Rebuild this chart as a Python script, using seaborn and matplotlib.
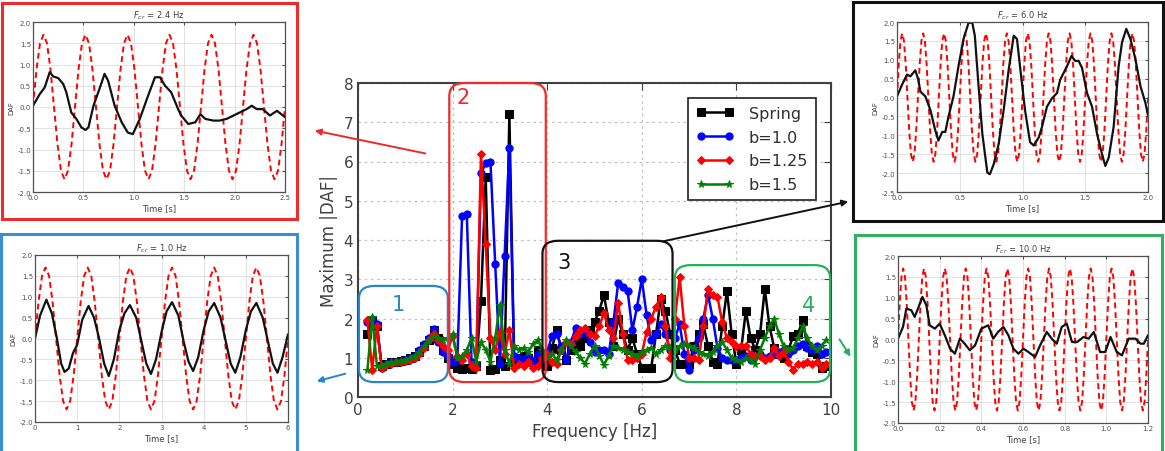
import numpy as np
import matplotlib
matplotlib.use('Agg')
import matplotlib.pyplot as plt
import seaborn as sns
from matplotlib.patches import FancyBboxPatch, Rectangle, FancyArrowPatch

# --- main sweep: maximum |DAF| vs excitation frequency ---
freq = np.round(np.arange(0.2, 9.95, 0.1), 1)   # 0.2 ... 9.9 Hz

spring = [1.6, 1.95, 1.8, 0.8, 0.85, 0.88, 0.9, 0.92, 0.95, 1.0,
          1.05, 1.15, 1.3, 1.45, 1.7, 1.5, 1.2, 1.0, 0.85, 0.75,
          0.72, 0.75, 0.72, 0.8, 2.45, 5.6, 0.7, 0.72, 0.95, 0.8,
          7.2, 0.9, 1.0, 1.05, 1.0, 0.9, 1.2, 1.0, 0.8, 1.25,
          1.7, 1.2, 0.95, 1.2, 1.4, 1.3, 1.5, 1.7, 1.9, 2.2,
          2.6, 1.9, 1.3, 2.0, 1.6, 1.2, 1.5, 1.1, 0.75, 0.75,
          0.75, 1.6, 2.5, 2.2, 1.6, 1.2, 0.85, 0.85, 0.85, 1.3,
          1.6, 1.85, 1.3, 0.9, 0.85, 1.8, 2.7, 1.6, 0.85, 1.2,
          2.2, 1.5, 1.2, 1.6, 2.75, 1.8, 1.25, 1.1, 1.0, 1.2,
          1.55, 1.6, 1.95, 1.3, 1.15, 1.1, 0.75, 0.8]
b10 = [1.9, 2.0, 1.85, 0.75, 0.85, 0.88, 0.9, 0.92, 0.95, 1.0,
       1.05, 1.2, 1.35, 1.5, 1.72, 1.4, 1.15, 1.05, 0.88, 0.95,
       4.6, 4.65, 0.9, 0.8, 5.7, 5.95, 6.0, 3.4, 0.85, 3.6,
       6.35, 1.05, 1.0, 0.95, 1.05, 0.9, 1.1, 0.95, 1.15, 1.55,
       1.6, 1.3, 0.95, 1.4, 1.75, 1.6, 1.65, 1.4, 1.15, 1.2,
       1.2, 1.1, 1.9, 2.9, 2.8, 2.7, 1.7, 2.3, 3.0, 2.1,
       1.45, 1.6, 1.85, 1.6, 1.2, 1.5, 1.85, 1.1, 0.7, 1.2,
       1.5, 2.0, 2.6, 2.0, 1.25, 1.0, 0.95, 0.95, 0.95, 1.0,
       1.05, 0.95, 1.05, 1.1, 1.0, 1.05, 1.1, 1.15, 1.2, 1.1,
       1.2, 1.3, 1.35, 1.25, 1.2, 1.3, 1.1, 1.15]
b125 = [1.95, 0.7, 1.8, 0.75, 0.82, 0.85, 0.88, 0.9, 0.92, 0.95,
        1.0, 1.1, 1.25, 1.45, 1.6, 1.45, 1.3, 1.2, 1.55, 1.05,
        0.95, 1.1, 0.8, 0.75, 6.2, 3.9, 1.5, 1.2, 1.65, 1.1,
        1.7, 0.75, 0.85, 0.8, 0.9, 0.75, 0.8, 1.0, 1.1, 0.9,
        0.85, 1.2, 1.4, 1.35, 1.55, 1.7, 1.75, 1.6, 1.55, 1.8,
        2.15, 1.7, 1.5, 2.4, 1.6, 0.95, 0.95, 1.0, 1.1, 1.65,
        2.0, 2.3, 2.55, 1.8, 1.0, 2.0, 3.05, 1.8, 1.0, 1.0,
        0.95, 1.8, 2.75, 2.6, 2.55, 1.9, 1.5, 1.4, 1.3, 1.3,
        1.3, 1.1, 1.05, 1.05, 0.95, 1.0, 1.25, 1.05, 1.15, 0.9,
        0.7, 0.85, 0.85, 0.9, 0.85, 0.9, 0.75, 0.85]
b15 = [0.7, 2.05, 0.8, 0.8, 0.85, 0.88, 0.9, 0.92, 0.95, 1.0,
       1.05, 1.15, 1.3, 1.45, 1.55, 1.5, 1.45, 1.5, 1.6, 1.0,
       1.05, 1.2, 1.5, 0.9, 1.4, 1.2, 0.9, 1.5, 2.35, 1.2,
       0.85, 1.3, 1.2, 1.25, 1.15, 1.35, 1.45, 1.2, 1.0, 1.1,
       0.95, 1.2, 1.45, 1.3, 1.15, 1.0, 0.85, 1.1, 1.3, 1.05,
       0.82, 1.05, 1.3, 1.25, 1.2, 1.15, 1.1, 1.05, 1.15, 1.2,
       1.25, 1.1, 1.2, 1.3, 1.25, 1.2, 1.3, 1.35, 1.3, 1.25,
       1.15, 1.1, 1.05, 1.15, 1.3, 1.4, 1.2, 1.0, 0.95, 0.9,
       1.0, 0.95, 0.85, 1.2, 1.5, 1.8, 2.0, 1.6, 1.3, 1.2,
       1.25, 1.5, 1.8, 1.5, 1.3, 1.2, 1.3, 1.45]

# --- time histories (black: response, red dashed: excitation) ---
t_24 = [0, 0.066, 0.116, 0.166, 0.2, 0.25, 0.3, 0.33, 0.38, 0.43, 0.48, 0.52, 0.55, 0.6, 0.66,
        0.71, 0.745, 0.81, 0.88, 0.94, 0.99, 1.06, 1.13, 1.21, 1.26, 1.31, 1.37, 1.44, 1.47, 1.54,
        1.61, 1.66, 1.71, 1.79, 1.85, 1.92, 1.99, 2.05, 2.12, 2.17, 2.22, 2.28, 2.35, 2.42, 2.48, 2.5]
daf_24 = [0.03, 0.3, 0.46, 0.82, 0.72, 0.68, 0.54, 0.35, -0.13, -0.28, -0.48, -0.54, -0.48, 0.03, 0.43,
          0.78, 0.62, 0.03, -0.36, -0.6, -0.64, -0.28, 0.19, 0.7, 0.7, 0.5, 0.35, -0.05, -0.2, -0.4,
          -0.36, -0.17, -0.28, -0.32, -0.32, -0.28, -0.2, -0.13, -0.05, 0.03, -0.05, -0.05, -0.2, -0.09, -0.2, -0.24]

t_10 = [0.0, 0.12, 0.27, 0.4, 0.52, 0.62, 0.7, 0.8, 0.9, 1.0, 1.12, 1.27, 1.4, 1.52, 1.64, 1.75, 1.87,
        2.0, 2.12, 2.25, 2.4, 2.52, 2.64, 2.75, 2.87, 3.0, 3.12, 3.25, 3.4, 3.52, 3.64, 3.75, 3.87,
        4.0, 4.12, 4.25, 4.4, 4.52, 4.64, 4.75, 4.87, 5.0, 5.12, 5.25, 5.4, 5.52, 5.64, 5.75, 5.87, 6.0]
daf_10 = [0.0, 0.55, 0.93, 0.6, 0.0, -0.6, -0.8, -0.72, -0.35, -0.15, 0.45, 0.78, 0.5, 0.0, -0.6, -0.9, -0.5,
          0.2, 0.6, 0.8, 0.5, -0.05, -0.6, -0.85, -0.5, 0.15, 0.65, 0.87, 0.55, -0.05, -0.55, -0.78, -0.45,
          0.2, 0.65, 0.85, 0.5, -0.05, -0.6, -0.82, -0.45, 0.2, 0.65, 0.85, 0.5, -0.05, -0.6, -0.82, -0.45, 0.1]

t_60 = [0, 0.04, 0.08, 0.106, 0.146, 0.17, 0.186, 0.226, 0.266, 0.305, 0.33, 0.36, 0.385, 0.41, 0.45,
        0.49, 0.53, 0.57, 0.6, 0.62, 0.65, 0.68, 0.72, 0.74, 0.77, 0.81, 0.85, 0.89, 0.93, 0.956,
        0.98, 1.02, 1.06, 1.09, 1.13, 1.155, 1.195, 1.235, 1.275, 1.3, 1.355, 1.39, 1.42, 1.447, 1.474,
        1.514, 1.554, 1.594, 1.634, 1.66, 1.687, 1.726, 1.766, 1.793, 1.827, 1.86, 1.9, 1.94, 1.98, 2.0]
daf_60 = [0.03, 0.34, 0.61, 0.56, 0.72, 0.47, 0.16, 0.03, -0.33, -0.87, -1.14, -0.91, -0.91, -0.51, 0.03,
          0.83, 1.55, 1.98, 1.98, 1.64, 0.3, -0.96, -1.99, -2.03, -1.77, -1.23, -0.33, 0.74, 1.64, 1.55,
          0.83, -0.33, -1.18, -1.27, -1.05, -0.78, -0.24, -0.02, 0.12, 0.47, 0.83, 1.1, 0.97, 0.97, 0.79,
          0.12, -0.24, -0.96, -1.5, -1.81, -1.59, -0.78, 0.83, 1.46, 1.82, 1.55, 1.01, 0.3, -0.15, -0.47]

t_100 = [0, 0.024, 0.04, 0.064, 0.08, 0.096, 0.117, 0.136, 0.152, 0.177, 0.2, 0.225, 0.25, 0.273, 0.297,
         0.32, 0.345, 0.37, 0.4, 0.433, 0.457, 0.48, 0.506, 0.53, 0.554, 0.578, 0.602, 0.626, 0.658, 0.682,
         0.714, 0.738, 0.762, 0.786, 0.81, 0.835, 0.86, 0.89, 0.915, 0.94, 0.97, 0.995, 1.02, 1.05, 1.075,
         1.107, 1.14, 1.164, 1.18, 1.2]
daf_100 = [0.02, 0.3, 0.74, 0.7, 0.54, 0.74, 1.02, 0.82, 0.34, 0.26, 0.38, 0.1, -0.22, -0.34, 0.02,
           -0.1, -0.26, -0.14, 0.26, 0.34, 0.02, 0.18, 0.3, 0.1, -0.22, -0.34, -0.22, -0.3, -0.42, -0.14,
           0.18, 0.02, -0.1, 0.3, 0.38, -0.06, -0.06, 0.06, 0.02, 0.18, -0.3, -0.3, 0.06, -0.3, -0.38,
           0.02, 0.02, -0.1, -0.1, 0.1]

# one period of the excitation
exc_cycle = [0.0, 0.88, 1.5, 1.7, 1.5, 0.88, 0.0, -0.88, -1.5, -1.7, -1.5, -0.88]

ticks_24 = ['0.0', '0.5', '1.0', '1.5', '2.0', '2.5']
ticks_10 = ['0', '1', '2', '3', '4', '5', '6']
ticks_60 = ['0.0', '0.5', '1.0', '1.5', '2.0']
ticks_100 = ['0.0', '0.2', '0.4', '0.6', '0.8', '1.0', '1.2']

W, H = 1165, 452


def fp(x, y):
    # figure pixel (from top-left) -> figure fraction
    return x / W, 1 - y / H


sns.set_style('white')
plt.rcParams['font.family'] = ['DejaVu Sans']
plt.rcParams['mathtext.fontset'] = 'dejavusans'

fig = plt.figure(figsize=(11.65, 4.52), dpi=100)

# ================= main axes =================
ax = fig.add_axes([358 / W, 1 - 398 / H, 473 / W, 314 / H])
series = [('Spring', spring, 'black', 's', 5.2),
          ('b=1.0', b10, 'blue', 'o', 5.2),
          ('b=1.25', b125, 'red', 'D', 4.3),
          ('b=1.5', b15, 'green', '*', 5.5)]
for lab, vals, col, mk, ms in series:
    sns.lineplot(x=freq, y=vals, ax=ax, color=col, marker=mk, markersize=ms,
                 markeredgecolor=col, linewidth=1.8, label=lab, sort=False, estimator=None)

ax.set_xlim(0, 10)
ax.set_ylim(0, 8)
ax.set_xticks([0, 2, 4, 6, 8, 10])
ax.set_yticks(range(0, 9))
ax.grid(True, color='#c0c0c0', linestyle=(0, (2, 3)), linewidth=0.9)
ax.tick_params(direction='in', top=True, right=True, length=5, labelsize=11,
               labelcolor='#404040', color='#404040')
for s in ax.spines.values():
    s.set_linewidth(1.5)
    s.set_color('#404040')
ax.set_xlabel('Frequency [Hz]', fontsize=12, color='#404040')
ax.set_ylabel('Maximum |DAF|', fontsize=12, color='#404040')

leg = ax.legend(loc='upper right', bbox_to_anchor=(0.985, 0.978), fontsize=11.5, numpoints=2,
                fancybox=False, edgecolor='#202020', framealpha=1, borderpad=0.5,
                labelspacing=0.55, handlelength=2.4, handletextpad=0.9)
leg.get_frame().set_linewidth(1.2)
for txt in leg.get_texts():
    txt.set_color('#303030')

# highlighted regions
regions = [((0.02, 0.38), 1.88, 2.45, '#2a86cc', '1', (0.85, 2.37)),
           ((1.93, 0.38), 2.04, 7.62, '#f02a2a', '2', (2.22, 7.65)),
           ((3.9, 0.38), 2.75, 3.6, '#111111', '3', (4.35, 3.44)),
           ((6.7, 0.38), 3.28, 2.98, '#25b05a', '4', (9.53, 2.34))]
for (x0, y0), w, h, col, num, (tx, ty) in regions:
    ax.add_patch(FancyBboxPatch((x0, y0), w, h, boxstyle='round,pad=0,rounding_size=0.33',
                                fill=False, ec=col, lw=1.6, clip_on=False, zorder=5))
    ax.text(tx, ty, num, color=col, fontsize=15, ha='center', va='center', zorder=6)


# ================= insets =================
def inset(rect, t, daf, f_cr, n_cyc, t_end, xlabels, ylims, yticks):
    a = fig.add_axes(rect)
    t_exc = np.linspace(0, t_end, n_cyc * len(exc_cycle) + 1)
    exc = np.append(np.tile(exc_cycle, n_cyc), 0.0)
    sns.lineplot(x=t_exc, y=exc, ax=a, color='red', linewidth=1.4,
                 linestyle=(0, (3, 2)), sort=False, estimator=None)
    sns.lineplot(x=t, y=daf, ax=a, color='#111111', linewidth=1.6, sort=False, estimator=None)
    a.set_xlim(0, t_end)
    a.set_ylim(*ylims)
    a.set_xticks([float(v) for v in xlabels])
    a.set_xticklabels(xlabels)
    a.set_yticks(yticks)
    a.set_yticklabels(['%.1f' % v for v in yticks])
    a.grid(True, color='#dddddd', linewidth=0.6)
    a.tick_params(direction='in', length=2, labelsize=5, labelcolor='#505050',
                  color='#505050', pad=1.5, top=True, right=True)
    for s in a.spines.values():
        s.set_linewidth(0.9)
        s.set_color('#505050')
    a.set_title(r'$F_{cr}$ = %s Hz' % f_cr, fontsize=6, color='#404040', pad=3)
    a.set_xlabel('Time [s]', fontsize=6, color='#404040', labelpad=2)
    a.set_ylabel('DAF', fontsize=5, color='#404040', labelpad=2)
    return a


yt_std = [-2.0, -1.5, -1.0, -0.5, 0.0, 0.5, 1.0, 1.5, 2.0]
yt_60 = [-2.5, -2.0, -1.5, -1.0, -0.5, 0.0, 0.5, 1.0, 1.5, 2.0]

inset([33 / W, 1 - 193 / H, 252 / W, 170 / H], t_24, daf_24, '2.4', 6, 2.5,
      ticks_24, (-2, 2), yt_std)
inset([35 / W, 1 - 423 / H, 253 / W, 167 / H], t_10, daf_10, '1.0', 6, 6.0,
      ticks_10, (-2, 2), yt_std)
inset([897 / W, 1 - 193 / H, 251 / W, 170 / H], t_60, daf_60, '6.0', 12, 2.0,
      ticks_60, (-2.5, 2), yt_60)
inset([898 / W, 1 - 424 / H, 250 / W, 167 / H], t_100, daf_100, '10.0', 12, 1.2,
      ticks_100, (-2, 2), yt_std)

# coloured frames round the insets
frames = [((2, 4), (297, 220), '#ee2a2a'),
          ((1, 235), (297, 460), '#3a8fd4'),
          ((853, 3), (1163, 222), '#111111'),
          ((855, 236), (1162, 460), '#30b060')]
for (x0, y0), (x1, y1), col in frames:
    fx0, fy1 = fp(x0, y0)
    fx1, fy0 = fp(x1, y1)
    fig.add_artist(Rectangle((fx0, fy0), fx1 - fx0, fy1 - fy0, transform=fig.transFigure,
                             fill=False, ec=col, lw=2.2))

# arrows from the regions to the insets
arrows = [((428, 155), (312, 131), '#ee2a2a'),
          ((348, 374), (314, 383), '#2a86cc'),
          ((660, 243), (851, 202), '#111111'),
          ((838, 338), (852, 360), '#25b05a')]
for a0, a1, col in arrows:
    fig.add_artist(FancyArrowPatch(fp(*a0), fp(*a1), transform=fig.transFigure,
                                   arrowstyle='-|>', mutation_scale=9, color=col, lw=1.4))

fig.savefig('out.png', dpi=100)
